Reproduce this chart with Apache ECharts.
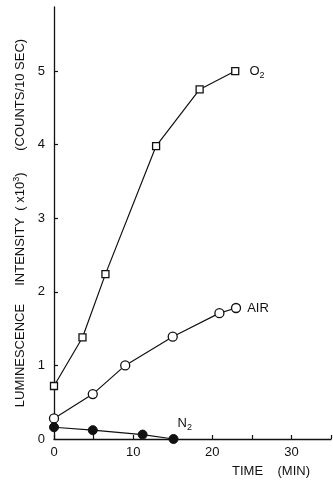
<!DOCTYPE html>
<html>
<head>
<meta charset="utf-8">
<script src="https://cdn.jsdelivr.net/npm/echarts@6/dist/echarts.min.js"></script>
<style>
  html, body { margin: 0; padding: 0; background: #fff; }
  #chart { width: 333px; height: 480px; }
</style>
</head>
<body>
<div id="chart"></div>
<script>
// Luminescence intensity over time under three atmospheres
const o2Time = [0, 3.6, 6.5, 12.9, 18.4, 22.9];
const o2Vals = [0.72, 1.38, 2.24, 3.98, 4.75, 5.0];
const airTime = [0, 4.9, 9.0, 15.0, 20.9, 23.0];
const airVals = [0.28, 0.61, 1.0, 1.39, 1.71, 1.78];
const n2Time = [0, 4.9, 11.2, 15.1];
const n2Vals = [0.16, 0.12, 0.06, 0.0];

const xTickValues = [0, 5, 10, 15, 20, 25, 30, 35];
const xLabelValues = [0, 10, 20, 30];
const yTickValues = [1, 2, 3, 4, 5];
const yLabelValues = [0, 1, 2, 3, 4, 5];

const FONT = 'Liberation Sans';
const INK = '#111';

function pairs(xs, ys) { return xs.map((x, i) => [x, ys[i]]); }

// attach a label to the last point of a series
function withEndLabel(data, label) {
  const out = data.map(p => ({ value: p }));
  out[out.length - 1].label = label;
  return out;
}

const chart = echarts.init(document.getElementById('chart'), null, { renderer: 'canvas' });

const subRich = {
  t: { fontSize: 13, fontFamily: FONT, color: INK },
  s: { fontSize: 9, fontFamily: FONT, color: INK, verticalAlign: 'bottom', padding: [9, 0, 0, 0] }
};

chart.setOption({
  animation: false,
  backgroundColor: '#fff',
  grid: { left: 54, right: 2, top: 7, bottom: 41, containLabel: false },
  xAxis: {
    type: 'value', min: 0, max: 35,
    axisLine: { lineStyle: { color: INK, width: 1.3 } },
    axisTick: { inside: true, length: 4, customValues: xTickValues, lineStyle: { color: INK, width: 1.2 } },
    axisLabel: { customValues: xLabelValues, margin: 7, fontSize: 13, fontFamily: FONT, color: INK },
    splitLine: { show: false }
  },
  yAxis: {
    type: 'value', min: 0, max: 5.87,
    name: '{t|LUMINESCENCE     INTENSITY  ( x10}{u|3}{t|)      (COUNTS/10 SEC)}',
    nameLocation: 'middle', nameGap: 24,
    nameTextStyle: {
      rich: {
        t: { fontSize: 13, fontFamily: FONT, color: INK },
        u: { fontSize: 9, fontFamily: FONT, color: INK, verticalAlign: 'top', padding: [0, 0, 7, 0] }
      }
    },
    axisLine: { show: true, lineStyle: { color: INK, width: 1.3 } },
    axisTick: { show: true, inside: true, length: 4, customValues: yTickValues, lineStyle: { color: INK, width: 1.2 } },
    axisLabel: { customValues: yLabelValues, margin: 9, fontSize: 13, fontFamily: FONT, color: INK },
    splitLine: { show: false }
  },
  graphic: [
    {
      type: 'text', left: 232, top: 465,
      style: { text: 'TIME    (MIN)', font: '13px "Liberation Sans"', fill: INK }
    }
  ],
  series: [
    {
      name: 'O2', type: 'line',
      data: withEndLabel(pairs(o2Time, o2Vals), {
        show: true, position: 'right', distance: 10,
        formatter: '{t|O}{s|2}', rich: subRich
      }),
      symbol: 'rect', symbolSize: 7,
      itemStyle: { color: '#fff', borderColor: INK, borderWidth: 1.3 },
      lineStyle: { color: INK, width: 1.2 },
      label: { show: false }
    },
    {
      name: 'AIR', type: 'line',
      data: withEndLabel(pairs(airTime, airVals), {
        show: true, position: 'right', distance: 6,
        formatter: '{t|AIR}', rich: subRich
      }),
      symbol: 'circle', symbolSize: 9,
      itemStyle: { color: '#fff', borderColor: INK, borderWidth: 1.3 },
      lineStyle: { color: INK, width: 1.2 },
      label: { show: false }
    },
    {
      name: 'N2', type: 'line',
      data: withEndLabel(pairs(n2Time, n2Vals), {
        show: true, position: [9, -20],
        formatter: '{t|N}{s|2}', rich: subRich
      }),
      symbol: 'circle', symbolSize: 9,
      itemStyle: { color: INK, borderColor: INK, borderWidth: 1 },
      lineStyle: { color: INK, width: 1.2 },
      label: { show: false }
    }
  ]
});
</script>
</body>
</html>
